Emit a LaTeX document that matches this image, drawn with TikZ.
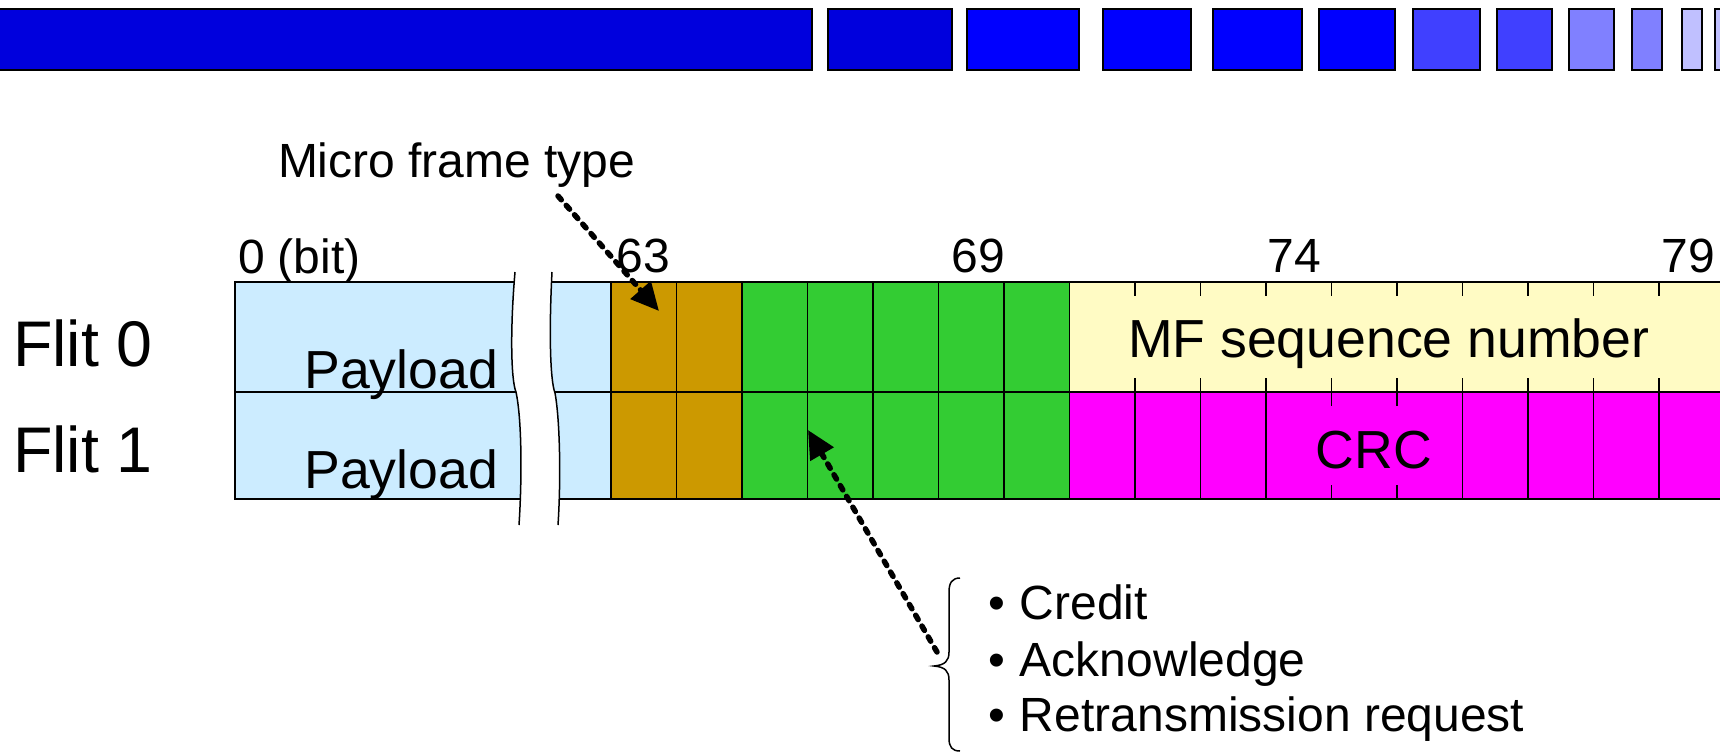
\documentclass[tikz,border=0pt]{standalone}
\usepackage{fontspec}
\setmainfont{Liberation Sans}
\usetikzlibrary{arrows.meta}

\definecolor{barDark}{HTML}{0000DD}
\definecolor{barBlue}{HTML}{0000FF}
\definecolor{barMid}{HTML}{4040FF}
\definecolor{barLight}{HTML}{8080FF}
\definecolor{barPale}{HTML}{C0C0FF}
\definecolor{payloadFill}{HTML}{CCECFF}
\definecolor{typeFill}{HTML}{CC9900}
\definecolor{ctrlFill}{HTML}{33CC33}
\definecolor{seqFill}{HTML}{FFFBC4}
\definecolor{crcFill}{HTML}{FF00FF}

\tikzset{
  barblock/.style={draw=black, line width=1.5pt},
  cellbox/.style={draw=black, line width=1.6pt, inner sep=0pt, outer sep=0pt, anchor=north west},
  rule/.style={draw=black, line width=1.6pt},
  breakline/.style={draw=black, line width=1.5pt},
  lbl/.style={inner sep=0pt, outer sep=0pt, font=\fontsize{48}{56}\selectfont},
  biglbl/.style={inner sep=0pt, outer sep=0pt, font=\fontsize{53.6}{62}\selectfont},
  rowlbl/.style={inner sep=0pt, outer sep=0pt, font=\fontsize{64.5}{72}\selectfont},
  ptr/.style={line width=5.5pt, dash pattern=on 5pt off 7.5pt, line cap=round,
              -{Triangle[length=28pt,width=26pt]}},
}

\begin{document}
\begin{tikzpicture}[x=1pt,y=-1pt]
  \useasboundingbox (0,0) rectangle (1720,752);
  \fill[white] (0,0) rectangle (1720,752);

  % progress bar along the top
  \path[barblock, fill=barDark]  (-5,9) rectangle (812,70);
  \path[barblock, fill=barDark]  (828,9) rectangle (952,70);
  \path[barblock, fill=barBlue]  (967,9) rectangle (1079,70);
  \path[barblock, fill=barBlue]  (1103,9) rectangle (1191,70);
  \path[barblock, fill=barBlue]  (1213,9) rectangle (1302,70);
  \path[barblock, fill=barBlue]  (1319,9) rectangle (1395,70);
  \path[barblock, fill=barMid]   (1413,9) rectangle (1480,70);
  \path[barblock, fill=barMid]   (1497,9) rectangle (1552,70);
  \path[barblock, fill=barLight] (1569,9) rectangle (1614,70);
  \path[barblock, fill=barLight] (1632,9) rectangle (1662,70);
  \path[barblock, fill=barPale]  (1682,9) rectangle (1702,70);
  \path[barblock, fill=barPale]  (1715,9) rectangle (1730,70);

  % payload part of both flits
  \node[cellbox, fill=payloadFill, minimum width=376pt, minimum height=110pt] (pay0) at (235,282) {};
  \node[cellbox, fill=payloadFill, minimum width=376pt, minimum height=107pt] (pay1) at (235,392) {};

  % break in the payload
  \fill[white] (515,272) .. controls (510,330) and (511,380) .. (516,392)
               .. controls (522,420) and (522,480) .. (519,525)
               -- (558,525) .. controls (561,480) and (560,420) .. (555,393)
               .. controls (550,380) and (549,330) .. (552,272) -- cycle;
  \draw[breakline] (515,272) .. controls (510,330) and (511,380) .. (516,392)
               .. controls (522,420) and (522,480) .. (519,525);
  \draw[breakline] (552,272) .. controls (549,330) and (550,380) .. (555,393)
               .. controls (560,420) and (561,480) .. (558,525);

  % micro frame type bits (63, 64) and control bits (65..69)
  \foreach \k in {0,1} {
    \node[cellbox, fill=typeFill, minimum width=65.5pt, minimum height=110pt] (type0-\k) at ({611+65.5*\k},282) {};
    \node[cellbox, fill=typeFill, minimum width=65.5pt, minimum height=107pt] (type1-\k) at ({611+65.5*\k},392) {};
  }
  \foreach \k in {2,...,6} {
    \node[cellbox, fill=ctrlFill, minimum width=65.5pt, minimum height=110pt] (ctrl0-\k) at ({611+65.5*\k},282) {};
    \node[cellbox, fill=ctrlFill, minimum width=65.5pt, minimum height=107pt] (ctrl1-\k) at ({611+65.5*\k},392) {};
  }

  % sequence number and CRC fields
  \node[cellbox, fill=seqFill, minimum width=670pt, minimum height=110pt] (seq) at (1069.5,282) {};
  \node[cellbox, fill=crcFill, minimum width=670pt, minimum height=107pt] (crc) at (1069.5,392) {};
  \foreach \k in {8,...,16} {
    \draw[rule] ({611+65.5*\k},282) -- ++(0,14);
    \draw[rule] ({611+65.5*\k},392) -- ++(0,-14);
  }
  \foreach \k in {8,9,10,13,14,15,16} {
    \draw[rule] ({611+65.5*\k},392) -- ({611+65.5*\k},499);
  }
  \foreach \k in {11,12} {
    \draw[rule] ({611+65.5*\k},392) -- ++(0,14);
    \draw[rule] ({611+65.5*\k},499) -- ++(0,-14);
  }

  % field texts
  \node[biglbl, anchor=base east] (pl0) at (498,388) {Payload};
  \node[biglbl, anchor=base east] (pl1) at (498,488) {Payload};
  \node[biglbl, anchor=base west] (seqtxt) at (1128,357) {MF sequence number};
  \node[biglbl, anchor=base] (crctxt) at (1374,468) {CRC};

  % row names
  \node[rowlbl, anchor=base west] (flit0) at (13,366) {Flit 0};
  \node[rowlbl, anchor=base west] (flit1) at (13,472) {Flit 1};

  % bit positions
  \node[lbl, anchor=base west] (b0) at (238,273) {0 (bit)};
  \node[lbl, anchor=base] (b63) at (643.5,272) {63};
  \node[lbl, anchor=base] (b69) at (978,272) {69};
  \node[lbl, anchor=base] (b74) at (1294,272) {74};
  \node[lbl, anchor=base] (b79) at (1688,272) {79};

  % callouts
  \node[lbl, anchor=base west] (mft) at (278,177) {Micro frame type};
  \coordinate (mft-from) at (558,196);
  \coordinate (mft-to) at (659,311);
  \draw[ptr] (mft-from) -- (mft-to);

  \node[lbl, anchor=base west] (it1) at (988,619) {\makebox[32pt][l]{•}Credit};
  \node[lbl, anchor=base west] (it2) at (988,676) {\makebox[32pt][l]{•}Acknowledge};
  \node[lbl, anchor=base west] (it3) at (988,731) {\makebox[32pt][l]{•}Retransmission request};

  \draw[line width=1.5pt] (960,578) .. controls (952,578) and (949,583) .. (949,592)
        -- (949,652) .. controls (949,661) and (945,665) .. (934,666)
        .. controls (945,667) and (949,671) .. (949,680)
        -- (949,738) .. controls (949,747) and (952,751) .. (960,751);
  \coordinate (ctl-from) at (937,652);
  \coordinate (ctl-to) at (808,430);
  \draw[ptr] (ctl-from) -- (ctl-to);
\end{tikzpicture}
\end{document}
